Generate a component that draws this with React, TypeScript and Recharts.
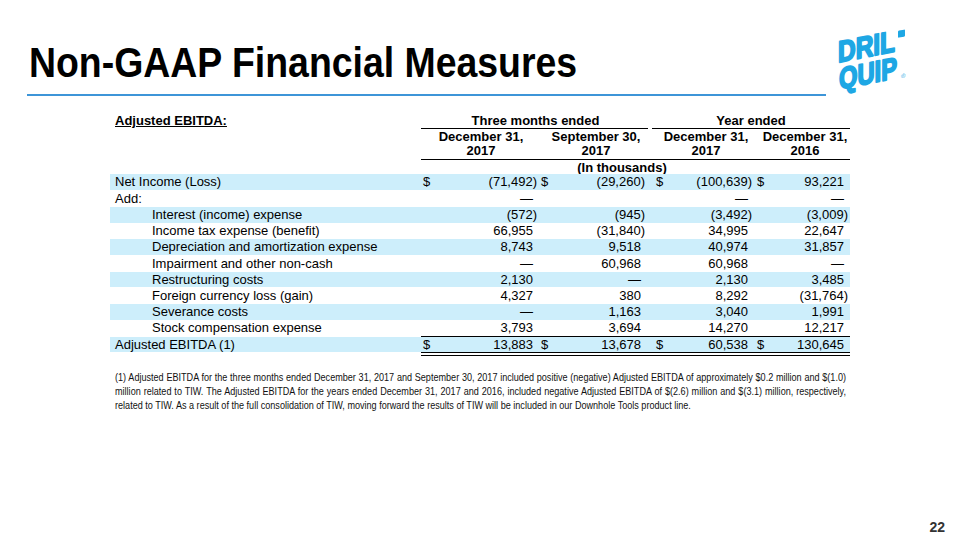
import React from 'react';
import { Surface, Text } from 'recharts';

// rows of the Adjusted EBITDA reconciliation
const rowLabels = [
  'Net Income (Loss)',
  'Add:',
  'Interest (income) expense',
  'Income tax expense (benefit)',
  'Depreciation and amortization expense',
  'Impairment and other non-cash',
  'Restructuring costs',
  'Foreign currency loss (gain)',
  'Severance costs',
  'Stock compensation expense',
  'Adjusted EBITDA (1)',
];
const rowIndented = [false, false, true, true, true, true, true, true, true, true, false];
const rowShaded = [true, false, true, false, true, false, true, false, true, false, true];
const rowDollar = [true, false, false, false, false, false, false, false, false, false, true];

// null = em dash, undefined = blank
const dec2017Quarter: (number | null | undefined)[] = [-71492, null, -572, 66955, 8743, null, 2130, 4327, null, 3793, 13883];
const sep2017Quarter: (number | null | undefined)[] = [-29260, undefined, -945, -31840, 9518, 60968, null, 380, 1163, 3694, 13678];
const dec2017Year: (number | null | undefined)[] = [-100639, null, -3492, 34995, 40974, 60968, 2130, 8292, 3040, 14270, 60538];
const dec2016Year: (number | null | undefined)[] = [93221, null, -3009, 22647, 31857, null, 3485, -31764, 1991, 12217, 130645];

const columns = [dec2017Quarter, sep2017Quarter, dec2017Year, dec2016Year];
const columnHeads = [
  ['December 31,', '2017'],
  ['September 30,', '2017'],
  ['December 31,', '2017'],
  ['December 31,', '2016'],
];
const groupHeads = ['Three months ended', 'Year ended'];

// footnote, broken the way the slide breaks it
const footnoteLines = [
  '(1) Adjusted EBITDA for the three months ended December 31, 2017 and September 30, 2017 included positive (negative) Adjusted EBITDA of approximately $0.2 million and $(1.0)',
  'million related to TIW.  The Adjusted EBITDA for the years ended December 31, 2017 and 2016, included negative Adjusted EBITDA of $(2.6) million and $(3.1) million, respectively,',
  'related to TIW.  As a result of the full consolidation of TIW, moving forward the results of TIW will be included in our Downhole Tools product line.',
];

const FONT = '"Liberation Sans", Arial, sans-serif';

const dollarX = [423, 541, 656, 757];
const digitRight = [533, 641, 748, 844];
const colCenter = [481, 596, 706, 805];
const ROW_TOP = 174.3;
const ROW_H = 16.24;
const NOTE_SCALE = 0.865;

function fmt(v: number | null | undefined) {
  if (v === undefined) return '';
  if (v === null) return '\u2014';
  const s = Math.abs(v).toLocaleString('en-US');
  return v < 0 ? `(${s})` : s;
}

function Rule({ y, x1 = 421, x2 = 850, w = 1.3 }: { y: number; x1?: number; x2?: number; w?: number }) {
  return (
    <div
      style={{ position: 'absolute', left: x1, top: y, width: x2 - x1, height: w, background: '#000' }}
    />
  );
}

function Logo() {
  const blue = '#1ea7e4';
  return (
    <Surface width={100} height={85} viewBox={{ x: 0, y: 0, width: 100, height: 85 }}>
      <g transform="skewY(-11)" fill={blue} stroke={blue} strokeWidth={2} strokeLinejoin="round">
        <text x={13} y={52} fontFamily={FONT} fontWeight={700} fontSize={30} textLength={57} lengthAdjust="spacingAndGlyphs">
          DRIL
        </text>
        <rect x={74} y={33} width={5} height={5} />
        <text x={14} y={79} fontFamily={FONT} fontWeight={700} fontSize={30} textLength={58} lengthAdjust="spacingAndGlyphs">
          QUIP
        </text>
        <text x={76} y={80} fontFamily={FONT} fontSize={6} strokeWidth={0}>
          ®
        </text>
      </g>
    </Surface>
  );
}

export default function App() {
  return (
    <div
      style={{
        position: 'absolute',
        left: 0,
        top: 0,
        width: 960,
        height: 540,
        background: '#fff',
        overflow: 'hidden',
        fontFamily: FONT,
        color: '#000',
      }}
    >
      <div
        style={{
          position: 'absolute',
          left: 29,
          top: 36,
          fontWeight: 700,
          fontSize: 43,
          lineHeight: '52px',
          whiteSpace: 'nowrap',
          transform: 'scaleX(0.87)',
          transformOrigin: 'left top',
        }}
      >
        Non-GAAP Financial Measures
      </div>
      <div style={{ position: 'absolute', left: 27, top: 94, width: 799, height: 2, background: '#3d95d8' }} />
      <div style={{ position: 'absolute', left: 825, top: 13 }}>
        <Logo />
      </div>

      {/* header */}
      <div
        style={{
          position: 'absolute',
          left: 115,
          top: 113,
          fontSize: 13,
          fontWeight: 700,
          textDecoration: 'underline',
          lineHeight: '16px',
        }}
      >
        Adjusted EBITDA:
      </div>
      {groupHeads.map((g, i) => (
        <div
          key={g}
          style={{
            position: 'absolute',
            left: i === 0 ? 421 : 652,
            width: i === 0 ? 229 : 198,
            top: 113,
            fontSize: 13,
            fontWeight: 700,
            textAlign: 'center',
            lineHeight: '16px',
          }}
        >
          {g}
        </div>
      ))}
      <Rule y={127.5} x2={648} />
      <Rule y={127.5} x1={652} />
      {columnHeads.map((h, i) => (
        <div
          key={i}
          style={{
            position: 'absolute',
            left: colCenter[i] - 60,
            width: 120,
            top: 130,
            fontSize: 13,
            fontWeight: 700,
            textAlign: 'center',
            lineHeight: '14px',
          }}
        >
          <div>{h[0]}</div>
          <div>{h[1]}</div>
        </div>
      ))}
      <Rule y={159} />
      <div
        style={{
          position: 'absolute',
          left: 562,
          width: 120,
          top: 160,
          fontSize: 13,
          fontWeight: 700,
          textAlign: 'center',
          lineHeight: '16px',
        }}
      >
        (In thousands)
      </div>

      {/* rows */}
      {rowLabels.map((label, r) => {
        const top = ROW_TOP + r * ROW_H;
        return (
          <div key={label}>
            {rowShaded[r] && (
              <div
                style={{ position: 'absolute', left: 110, top, width: 740, height: ROW_H - 0.5, background: '#cdeefb' }}
              />
            )}
            <div
              style={{
                position: 'absolute',
                left: rowIndented[r] ? 152 : 115,
                top,
                fontSize: 13,
                lineHeight: `${ROW_H}px`,
                whiteSpace: 'nowrap',
              }}
            >
              {label}
            </div>
            {columns.map((col, c) => {
              const v = col[r];
              return (
                <React.Fragment key={c}>
                  {rowDollar[r] && (
                    <div
                      style={{ position: 'absolute', left: dollarX[c], top, fontSize: 13, lineHeight: `${ROW_H}px` }}
                    >
                      $
                    </div>
                  )}
                  <div
                    style={{
                      position: 'absolute',
                      left: digitRight[c] - 100,
                      width: 100 + (typeof v === 'number' && v < 0 ? 4 : 0),
                      top,
                      fontSize: 13,
                      lineHeight: `${ROW_H}px`,
                      textAlign: 'right',
                      whiteSpace: 'nowrap',
                    }}
                  >
                    {fmt(v)}
                  </div>
                </React.Fragment>
              );
            })}
          </div>
        );
      })}
      <Rule y={ROW_TOP + 10 * ROW_H - 0.8} w={1.2} />
      <Rule y={ROW_TOP + 11 * ROW_H - 0.6} w={1} />
      <Rule y={ROW_TOP + 11 * ROW_H + 1.6} w={1} />

      <div
        style={{
          position: 'absolute',
          left: 115,
          top: 370,
          width: 731 / NOTE_SCALE,
          fontSize: 10.5,
          lineHeight: '14px',
          color: '#111',
          transform: `scaleX(${NOTE_SCALE})`,
          transformOrigin: 'left top',
        }}
      >
        {footnoteLines.map((line, i) => (
          <div
            key={i}
            style={{
              textAlign: 'justify',
              textAlignLast: i < footnoteLines.length - 1 ? 'justify' : 'left',
              whiteSpace: 'nowrap',
            }}
          >
            {line}
          </div>
        ))}
      </div>

      <div style={{ position: 'absolute', left: 920, top: 512 }}>
        <Surface width={30} height={28} viewBox={{ x: 0, y: 0, width: 30, height: 28 }}>
          <Text x={25} y={15} textAnchor="end" verticalAnchor="middle" fontFamily={FONT} fontWeight={700} fontSize={14} fill="#333">
            22
          </Text>
        </Surface>
      </div>
    </div>
  );
}
